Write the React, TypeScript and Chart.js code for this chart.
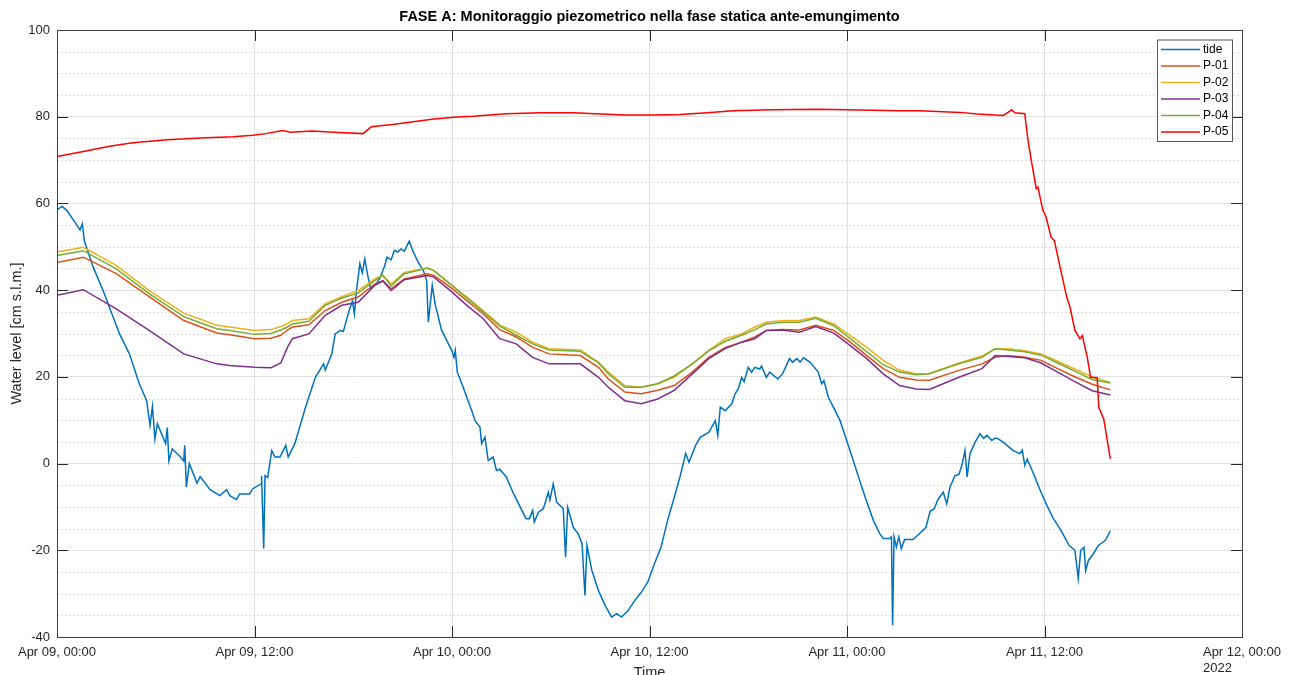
import React, { useEffect, useRef } from "react";
import { Chart, registerables } from "chart.js";

Chart.register(...registerables);

// ---------- DATA ----------
const chartTitle = "FASE A: Monitoraggio piezometrico nella fase statica ante-emungimento";
const yAxisTitle = "Water level [cm s.l.m.]";
const xAxisTitle = "Time";
const seriesNames = ["tide", "P-01", "P-02", "P-03", "P-04", "P-05"];
const seriesColors = ["#0072BD", "#D95319", "#EDB120", "#7E2F8E", "#77AC30", "#FF0000"];
// hours since Apr 09 00:00 -> label
const xTickLabels = ["Apr 09, 00:00", "Apr 09, 12:00", "Apr 10, 00:00", "Apr 10, 12:00", "Apr 11, 00:00", "Apr 11, 12:00", "Apr 12, 00:00"];
const xYearLabel = "2022";
const yTickValues = [-40, -20, 0, 20, 40, 60, 80, 100];

const tideTime = [0, 0.3, 0.6, 1.4, 1.54, 1.66, 2.2, 2.8, 3.8, 4.4, 5.0, 5.45, 5.65, 5.8, 5.95, 6.1, 6.6, 6.7, 6.8, 7.0, 7.5, 7.7, 7.76, 7.86, 8.04, 8.5, 8.7, 9.3, 9.9, 10.3, 10.5, 10.9, 11.1, 11.7, 11.9, 12.4, 12.43, 12.56, 12.64, 12.8, 13.05, 13.25, 13.55, 13.9, 14.05, 14.45, 15.1, 15.7, 16.2, 16.3, 16.7, 16.9, 17.2, 17.4, 17.75, 17.95, 18.07, 18.2, 18.4, 18.55, 18.7, 18.9, 19.05, 19.4, 19.65, 19.9, 20.05, 20.3, 20.5, 20.7, 20.9, 21.1, 21.4, 21.65, 21.95, 22.26, 22.46, 22.56, 22.8, 22.97, 23.37, 23.68, 23.98, 24.12, 24.2, 24.32, 24.6, 24.9, 25.2, 25.4, 25.7, 25.8, 26.0, 26.2, 26.5, 26.7, 26.9, 27.3, 27.7, 28.1, 28.5, 28.7, 28.9, 29.0, 29.25, 29.55, 29.85, 29.95, 30.15, 30.36, 30.76, 30.9, 31.03, 31.37, 31.67, 31.9, 32.08, 32.2, 32.5, 32.9, 33.3, 33.7, 34.0, 34.3, 34.7, 35.1, 35.5, 35.9, 36.3, 36.7, 37.1, 37.45, 37.65, 37.85, 38.2, 38.4, 38.8, 39.1, 39.6, 40.0, 40.15, 40.3, 40.6, 41.0, 41.2, 41.4, 41.6, 41.75, 42.0, 42.2, 42.4, 42.7, 42.8, 43.1, 43.3, 43.8, 44.1, 44.5, 44.7, 44.95, 45.15, 45.35, 45.75, 46.25, 46.46, 46.6, 46.87, 47.17, 47.58, 47.98, 48.38, 48.7, 49.1, 49.6, 50.0, 50.2, 50.6, 50.7, 50.77, 50.86, 51.0, 51.15, 51.3, 51.5, 52.0, 52.4, 52.8, 53.05, 53.3, 53.55, 53.85, 54.06, 54.26, 54.56, 54.8, 55.0, 55.17, 55.3, 55.47, 55.78, 56.08, 56.3, 56.5, 56.8, 57.0, 57.2, 57.6, 58.1, 58.5, 58.65, 58.8, 58.95, 59.2, 59.35, 59.7, 60.1, 60.5, 61.0, 61.5, 61.85, 62.05, 62.2, 62.4, 62.5, 62.66, 62.97, 63.27, 63.7, 64.0];
const tideLevel = [58.5, 59.3, 58.4, 53.9, 55.3, 51.4, 45.3, 39.9, 29.9, 25.3, 18.4, 14.5, 8.8, 13.2, 5.7, 9.2, 4.6, 8.3, 0.6, 3.4, 1.5, 0.6, 4.2, -5.4, 0, -4.5, -3.0, -6.0, -7.4, -6.0, -7.4, -8.3, -7.0, -7.0, -5.8, -4.7, -2.8, -19.6, -2.8, -3.2, 3.0, 1.5, 1.5, 4.2, 1.5, 4.6, 13.0, 19.9, 23.0, 21.6, 25.3, 29.9, 30.7, 30.5, 35.3, 37.5, 34.5, 40.0, 46.1, 44.0, 47.2, 43.0, 40.5, 41.5, 43.0, 45.5, 47.6, 47.0, 49.2, 48.8, 49.5, 49.0, 51.3, 48.8, 46.4, 44.5, 42.2, 32.6, 41.1, 36.9, 30.7, 28.4, 26.1, 24.5, 26.1, 21.1, 18.4, 15.3, 12.2, 9.9, 8.4, 4.6, 6.1, 0.7, 1.5, -1.6, -1.3, -3.1, -6.6, -9.7, -12.7, -12.7, -10.8, -13.5, -11.2, -10.4, -6.6, -8.4, -4.7, -8.9, -10.4, -21.6, -10.1, -14.7, -16.2, -18.5, -30.4, -18.9, -24.7, -29.3, -32.7, -35.4, -34.6, -35.4, -33.9, -31.6, -29.7, -27.3, -23.1, -19.3, -13.1, -8.5, -5.8, -3.1, 2.3, 0.3, 4.2, 6.1, 7.2, 9.9, 6.5, 13.0, 12.2, 13.8, 16.1, 17.3, 19.9, 18.9, 22.2, 21.1, 22.2, 21.8, 22.5, 19.9, 21.1, 19.5, 20.8, 24.2, 23.4, 24.2, 23.4, 24.4, 23.4, 21.1, 18.4, 19.1, 15.3, 13.0, 9.9, 5.3, 0.7, -3.1, -7.7, -13.1, -16.2, -17.3, -17.3, -16.9, -37.3, -16.9, -19.3, -16.9, -19.6, -17.5, -17.5, -16.2, -14.7, -11.0, -10.4, -8.1, -6.6, -9.3, -5.4, -2.8, -2.5, -0.1, 3.0, -3.1, 2.3, 4.9, 6.9, 5.8, 6.5, 5.3, 5.9, 5.7, 4.6, 3.0, 2.3, 3.1, -0.4, 1.0, -1.2, -2.5, -5.8, -9.3, -12.4, -15.4, -18.9, -20.0, -26.5, -20.0, -19.3, -24.7, -22.4, -20.8, -18.9, -17.7, -15.5];

const pTime = [0, 1.6, 3.6, 5.6, 7.7, 9.7, 10.5, 12, 13, 13.6, 14, 14.3, 15.3, 16.3, 17.3, 18.3, 19.3, 19.8, 20.3, 21.1, 22.5, 22.9, 23.9, 24.9, 25.9, 26.9, 27.9, 28.9, 29.9, 31.8, 32.9, 33.5, 34.5, 35.5, 36.5, 37.5, 38.6, 39.6, 40.6, 41.6, 42.4, 43.1, 44.1, 45.1, 46.1, 47.2, 48.2, 49.2, 50.2, 51.2, 52.2, 53, 54.8, 56.2, 57, 57.8, 58.8, 59.8, 60.8, 61.9, 62.9, 64];
const p01Level = [46.4, 47.6, 43.8, 38.5, 33.0, 30.1, 29.7, 28.8, 28.9, 29.6, 30.8, 31.5, 32.0, 35.3, 37.2, 38.4, 41.4, 42.2, 40.3, 42.6, 43.8, 43.4, 40.7, 37.6, 34.5, 30.9, 29.2, 26.8, 25.3, 24.9, 22.2, 19.5, 16.5, 16.1, 16.9, 18.0, 21.1, 24.5, 26.8, 28.0, 29.2, 30.7, 30.9, 30.8, 31.9, 30.7, 28.0, 24.9, 21.9, 19.9, 19.3, 19.2, 21.5, 23.0, 24.5, 24.9, 24.5, 23.8, 21.9, 19.9, 18.3, 17.0];
const p02Level = [48.8, 49.9, 45.7, 39.9, 34.7, 31.9, 31.5, 30.7, 30.9, 31.6, 32.3, 33.0, 33.4, 36.9, 38.5, 39.9, 42.6, 43.4, 41.4, 44.1, 45.1, 44.5, 41.4, 38.4, 35.3, 32.0, 30.3, 28.0, 26.5, 26.2, 23.4, 21.1, 18.0, 17.6, 18.4, 19.9, 23.0, 26.1, 28.8, 29.9, 31.5, 32.6, 33.0, 33.0, 33.8, 32.2, 29.5, 26.8, 23.8, 21.5, 20.7, 20.8, 23.2, 24.8, 26.4, 26.5, 26.0, 25.3, 23.6, 21.7, 20.0, 18.7];
const p03Level = [38.8, 40.1, 35.7, 30.7, 25.3, 23.0, 22.6, 22.2, 22.1, 23.2, 26.8, 28.8, 29.9, 34.2, 36.5, 37.2, 41.1, 42.1, 39.9, 42.4, 43.4, 43.0, 39.9, 36.5, 33.4, 28.8, 27.6, 24.5, 23.0, 23.0, 19.9, 17.6, 14.5, 13.8, 14.9, 16.9, 20.7, 24.2, 26.5, 28.0, 28.8, 30.7, 30.8, 30.3, 31.6, 30.1, 27.2, 24.2, 20.7, 18.0, 17.2, 17.1, 19.9, 21.9, 24.9, 24.7, 24.4, 23.2, 21.1, 18.8, 16.8, 15.8];
const p04Level = [48.0, 49.1, 44.9, 39.2, 33.9, 31.1, 30.7, 29.8, 30.0, 30.8, 31.5, 32.2, 32.8, 36.5, 38.2, 39.3, 42.2, 43.4, 41.0, 43.8, 45.1, 44.5, 41.4, 38.2, 35.0, 31.7, 29.6, 27.6, 26.2, 25.9, 23.2, 20.7, 17.6, 17.6, 18.4, 20.2, 23.0, 26.0, 28.2, 29.6, 30.9, 32.2, 32.6, 32.6, 33.5, 31.8, 28.8, 25.8, 22.8, 21.1, 20.5, 20.7, 23.0, 24.5, 26.5, 26.2, 25.8, 25.0, 23.2, 21.2, 19.4, 18.6];

const p05Time = [0, 1.6, 3.2, 4.6, 6.7, 8.7, 10.7, 11.9, 12.7, 13.7, 14.2, 15.5, 16.8, 18.6, 19.1, 20.4, 22.9, 24.5, 25.3, 27.3, 29.35, 31.4, 33.0, 34.6, 36.2, 37.85, 39.5, 41.1, 43.5, 46.2, 48.0, 51.2, 52.4, 54.9, 55.9, 57.5, 57.9, 58.0, 58.2, 58.8, 59.0, 59.2, 59.5, 59.6, 59.9, 60.1, 60.4, 60.6, 60.9, 61.35, 61.55, 61.85, 62.15, 62.3, 62.6, 62.8, 63.2, 63.3, 63.6, 64.0];
const p05Level = [70.8, 72.0, 73.2, 74.0, 74.7, 75.1, 75.4, 75.7, 76.1, 76.8, 76.4, 76.7, 76.4, 76.1, 77.7, 78.2, 79.5, 80.0, 80.1, 80.7, 80.9, 80.9, 80.6, 80.4, 80.4, 80.5, 80.9, 81.4, 81.6, 81.7, 81.6, 81.4, 81.4, 81.0, 80.6, 80.3, 81.3, 81.6, 80.9, 80.7, 74.5, 69.9, 63.4, 63.8, 58.4, 56.8, 52.2, 51.4, 46.1, 38.4, 36.1, 30.7, 28.8, 29.5, 24.5, 19.9, 19.8, 13.0, 10.3, 1.1];

// ---------- STYLE ----------
const FONT = "'Liberation Sans', Arial, Helvetica, sans-serif";
const TEXT = "#262626";
const W = 1293;
const H = 675;

const toXY = (t: number[], v: number[]) => t.map((tt, i) => ({ x: tt, y: v[i] }));

const matlabPlugin = {
  id: "matlabDecor",
  beforeDatasetsDraw(chart: any) {
    const { ctx, chartArea: a, scales } = chart;
    const y = scales.y;
    ctx.save();
    ctx.strokeStyle = "#dcdcdc";
    ctx.lineWidth = 1;
    ctx.setLineDash([2, 2]);
    for (let v = -35; v < 100; v += 5) {
      if (v % 20 === 0) continue;
      const py = Math.round(y.getPixelForValue(v)) + 0.5;
      ctx.beginPath();
      ctx.moveTo(a.left, py);
      ctx.lineTo(a.right, py);
      ctx.stroke();
    }
    ctx.restore();
  },
  afterDatasetsDraw(chart: any) {
    const { ctx, chartArea: a, scales } = chart;
    const x = scales.x;
    const y = scales.y;
    const tl = 11;
    ctx.save();
    ctx.strokeStyle = "#262626";
    ctx.lineWidth = 1;
    ctx.setLineDash([]);
    ctx.beginPath();
    yTickValues.forEach((v) => {
      const py = Math.round(y.getPixelForValue(v)) + 0.5;
      ctx.moveTo(a.left, py);
      ctx.lineTo(a.left + tl, py);
      ctx.moveTo(a.right, py);
      ctx.lineTo(a.right - tl, py);
    });
    xTickLabels.forEach((_, i) => {
      const px = Math.round(x.getPixelForValue(i * 12)) + 0.5;
      ctx.moveTo(px, a.top);
      ctx.lineTo(px, a.top + tl);
      ctx.moveTo(px, a.bottom);
      ctx.lineTo(px, a.bottom - tl);
    });
    ctx.stroke();
    ctx.strokeStyle = "#404040";
    ctx.strokeRect(Math.round(a.left) + 0.5, Math.round(a.top) + 0.5, Math.round(a.right - a.left), Math.round(a.bottom - a.top));
    ctx.restore();
  },
  afterDraw(chart: any) {
    const { ctx, chartArea: a, scales } = chart;
    const x = scales.x;
    ctx.save();
    ctx.fillStyle = "#000";
    ctx.font = `bold 14.5px ${FONT}`;
    ctx.textAlign = "center";
    ctx.textBaseline = "middle";
    ctx.fillText(chartTitle, (a.left + a.right) / 2, 17);
    ctx.fillStyle = TEXT;
    ctx.font = `14.5px ${FONT}`;
    ctx.fillText(xAxisTitle, (a.left + a.right) / 2, 673);
    ctx.save();
    ctx.translate(17, (a.top + a.bottom) / 2);
    ctx.rotate(-Math.PI / 2);
    ctx.fillText(yAxisTitle, 0, 0);
    ctx.restore();
    ctx.font = `13px ${FONT}`;
    ctx.textAlign = "left";
    const last = xTickLabels[xTickLabels.length - 1];
    const lx = x.getPixelForValue((xTickLabels.length - 1) * 12) - ctx.measureText(last).width / 2;
    ctx.fillText(xYearLabel, lx, 668);
    const bx = 1157, by = 39.5, bw = 75, bh = 101.5;
    ctx.fillStyle = "#fff";
    ctx.fillRect(bx, by, bw, bh);
    ctx.strokeStyle = "#555";
    ctx.lineWidth = 1;
    ctx.strokeRect(bx + 0.5, by + 0.5, bw, bh);
    ctx.font = `12px ${FONT}`;
    ctx.textBaseline = "middle";
    seriesNames.forEach((name, i) => {
      const ry = 49.5 + i * 16.5;
      ctx.strokeStyle = seriesColors[i];
      ctx.lineWidth = 1.5;
      ctx.beginPath();
      ctx.moveTo(1161, ry);
      ctx.lineTo(1200, ry);
      ctx.stroke();
      ctx.fillStyle = "#000";
      ctx.fillText(name, 1203, ry);
    });
    ctx.restore();
  },
};

export default function App() {
  const ref = useRef<HTMLCanvasElement | null>(null);

  useEffect(() => {
    const canvas = ref.current;
    if (!canvas) return;
    const seriesData = [
      toXY(tideTime, tideLevel),
      toXY(pTime, p01Level),
      toXY(pTime, p02Level),
      toXY(pTime, p03Level),
      toXY(pTime, p04Level),
      toXY(p05Time, p05Level),
    ];
    const chart = new Chart(canvas, {
      type: "line",
      data: {
        datasets: seriesNames.map((name, i) => ({
          label: name,
          data: seriesData[i],
          borderColor: seriesColors[i],
          backgroundColor: seriesColors[i],
          borderWidth: 1.5,
          pointRadius: 0,
          tension: 0,
          fill: false,
          order: seriesNames.length - i,
        })),
      },
      options: {
        animation: false,
        responsive: false,
        devicePixelRatio: 1,
        layout: { padding: { left: 0, right: W - 1242, top: 30, bottom: 0 } },
        plugins: {
          legend: { display: false },
          title: { display: false },
          tooltip: { enabled: false },
        },
        scales: {
          x: {
            type: "linear",
            min: 0,
            max: 72,
            afterFit: (s: any) => {
              s.height = H - 637;
              s.paddingLeft = 0;
              s.paddingRight = 0;
            },
            afterBuildTicks: (s: any) => {
              s.ticks = xTickLabels.map((_, i) => ({ value: i * 12 }));
            },
            ticks: {
              autoSkip: false,
              maxRotation: 0,
              minRotation: 0,
              padding: 8,
              color: TEXT,
              font: { family: FONT, size: 13 },
              callback: (v: any) => xTickLabels[Math.round(Number(v) / 12)] ?? "",
            },
            grid: { color: "#e0e0e0", drawTicks: false, lineWidth: 1 },
            border: { display: false },
          },
          y: {
            min: -40,
            max: 100,
            afterFit: (s: any) => {
              s.width = 57;
              s.paddingTop = 0;
              s.paddingBottom = 0;
            },
            afterBuildTicks: (s: any) => {
              s.ticks = yTickValues.map((v) => ({ value: v }));
            },
            ticks: {
              padding: 7,
              color: TEXT,
              font: { family: FONT, size: 13 },
              callback: (v: any) => String(v),
            },
            grid: { color: "#e0e0e0", drawTicks: false, lineWidth: 1 },
            border: { display: false },
          },
        },
      },
      plugins: [matlabPlugin],
    });
    return () => chart.destroy();
  }, []);

  return (
    <div style={{ position: "fixed", left: 0, top: 0, width: W, height: H, background: "#fff" }}>
      <canvas ref={ref} width={W} height={H} style={{ display: "block", width: W, height: H }} />
    </div>
  );
}
